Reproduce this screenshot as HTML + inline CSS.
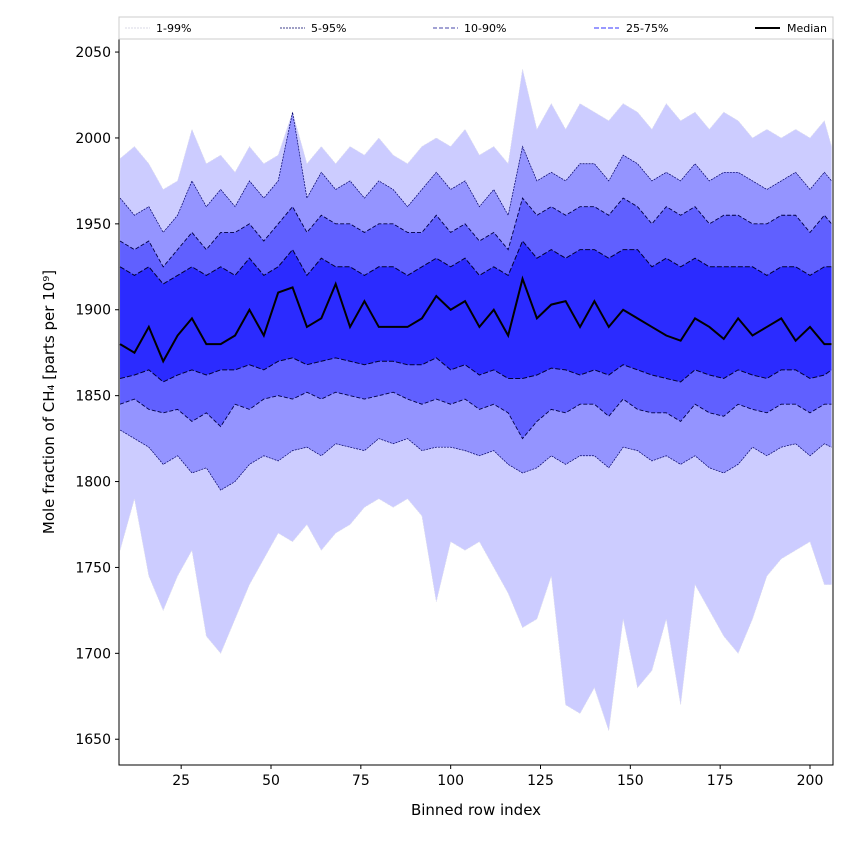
<!DOCTYPE html>
<html><head><meta charset="utf-8"><style>
body{margin:0;background:#fff;font-family:"Liberation Sans","DejaVu Sans",sans-serif}
svg text{font-family:"DejaVu Sans","Liberation Sans",sans-serif}
</style></head><body>
<svg id="chart" width="850" height="850" xmlns="http://www.w3.org/2000/svg"></svg>
<script>
const xs=[8,12,16,20,24,28,32,36,40,44,48,52,56,60,64,68,72,76,80,84,88,92,96,100,104,108,112,116,120,124,128,132,136,140,144,148,152,156,160,164,168,172,176,180,184,188,192,196,200,204,206];
const p99=[1988,1995,1985,1970,1975,2005,1985,1990,1980,1995,1985,1990,2015,1985,1995,1985,1995,1990,2000,1990,1985,1995,2000,1995,2005,1990,1995,1985,2040,2005,2020,2005,2020,2015,2010,2020,2015,2005,2020,2010,2015,2005,2015,2010,2000,2005,2000,2005,2000,2010,1995];
const p95=[1965,1955,1960,1945,1955,1975,1960,1970,1960,1975,1965,1975,2015,1965,1980,1970,1975,1965,1975,1970,1960,1970,1980,1970,1975,1960,1970,1955,1995,1975,1980,1975,1985,1985,1975,1990,1985,1975,1980,1975,1985,1975,1980,1980,1975,1970,1975,1980,1970,1980,1975];
const p90=[1940,1935,1940,1925,1935,1945,1935,1945,1945,1950,1940,1950,1960,1945,1955,1950,1950,1945,1950,1950,1945,1945,1955,1945,1950,1940,1945,1935,1965,1955,1960,1955,1960,1960,1955,1965,1960,1950,1960,1955,1960,1950,1955,1955,1950,1950,1955,1955,1945,1955,1950];
const p75=[1925,1920,1925,1915,1920,1925,1920,1925,1920,1930,1920,1925,1935,1920,1930,1925,1925,1920,1925,1925,1920,1925,1930,1925,1930,1920,1925,1920,1940,1930,1935,1930,1935,1935,1930,1935,1935,1925,1930,1925,1930,1925,1925,1925,1925,1920,1925,1925,1920,1925,1925];
const med=[1880,1875,1890,1870,1885,1895,1880,1880,1885,1900,1885,1910,1913,1890,1895,1915,1890,1905,1890,1890,1890,1895,1908,1900,1905,1890,1900,1885,1918,1895,1903,1905,1890,1905,1890,1900,1895,1890,1885,1882,1895,1890,1883,1895,1885,1890,1895,1882,1890,1880,1880];
const p25=[1860,1862,1865,1858,1862,1865,1862,1865,1865,1868,1865,1870,1872,1868,1870,1872,1870,1868,1870,1870,1868,1868,1872,1865,1868,1862,1865,1860,1860,1862,1866,1865,1862,1865,1862,1868,1865,1862,1860,1858,1865,1862,1860,1865,1862,1860,1865,1865,1860,1862,1865];
const p10=[1845,1848,1842,1840,1842,1835,1840,1832,1845,1842,1848,1850,1848,1852,1848,1852,1850,1848,1850,1852,1848,1845,1848,1845,1848,1842,1845,1840,1825,1835,1842,1840,1845,1845,1838,1848,1842,1840,1840,1835,1845,1840,1838,1845,1842,1840,1845,1845,1840,1845,1845];
const p5=[1830,1825,1820,1810,1815,1805,1808,1795,1800,1810,1815,1812,1818,1820,1815,1822,1820,1818,1825,1822,1825,1818,1820,1820,1818,1815,1818,1810,1805,1808,1815,1810,1815,1815,1808,1820,1818,1812,1815,1810,1815,1808,1805,1810,1820,1815,1820,1822,1815,1822,1820];
const p1=[1760,1790,1745,1725,1745,1760,1710,1700,1720,1740,1755,1770,1765,1775,1760,1770,1775,1785,1790,1785,1790,1780,1730,1765,1760,1765,1750,1735,1715,1720,1745,1670,1665,1680,1655,1720,1680,1690,1720,1670,1740,1725,1710,1700,1720,1745,1755,1760,1765,1740,1740];
const yTicks=[1650,1700,1750,1800,1850,1900,1950,2000,2050];
const xTicks=[25,50,75,100,125,150,175,200];
const L=119,R=833,T=39,B=765;
const xMin=7.7,xMax=206.4,yMin=1635,yMax=2057.6;
const X=v=>L+(v-xMin)/(xMax-xMin)*(R-L);
const Y=v=>B-(v-yMin)/(yMax-yMin)*(B-T);
const svg=document.getElementById('chart');
const NS='http://www.w3.org/2000/svg';
function mk(tag,attrs,parent){const e=document.createElementNS(NS,tag);for(const k in attrs)e.setAttribute(k,attrs[k]);(parent||svg).appendChild(e);return e;}
const defs=mk('defs',{});const cp=mk('clipPath',{id:'clip'},defs);mk('rect',{x:L,y:T,width:R-L,height:B-T},cp);
const g=mk('g',{'clip-path':'url(#clip)'});
function band(lo,hi,fill,name){
  let d='M'+xs.map((x,i)=>X(x)+','+Y(hi[i])).join('L');
  for(let i=xs.length-1;i>=0;i--)d+='L'+X(xs[i])+','+Y(lo[i]);
  const p=mk('path',{d:d+'Z',fill:fill,stroke:'none'},g);
  
  
}
band(p1,p99,'#ccccff','band-1-99');
band(p5,p95,'#9494ff','band-5-95');
band(p10,p90,'#6060ff','band-10-90');
band(p25,p75,'#2b2bff','band-25-75');
function line(arr,stroke,w,dash,name){
  const p=mk('path',{d:'M'+xs.map((x,i)=>X(x)+','+Y(arr[i])).join('L'),fill:'none',stroke:stroke,'stroke-width':w,'stroke-dasharray':dash},g);
  
  
}
line(p99,'#ddddee',0.6,'2,1','line-p99');line(p1,'#ddddee',0.6,'2,1','line-p1');
line(p95,'#000066',0.7,'2,1','line-p95');line(p5,'#000066',0.7,'2,1','line-p5');
line(p90,'#000044',0.9,'4,2','line-p90');line(p10,'#000044',0.9,'4,2','line-p10');
line(p75,'#000033',1,'5,2','line-p75');line(p25,'#000033',1,'5,2','line-p25');
line(med,'#000',2,'none','line-median');
mk('rect',{x:L,y:T,width:R-L,height:B-T,fill:'none',stroke:'#000','stroke-width':1});
yTicks.forEach(v=>{mk('line',{x1:L-4,x2:L,y1:Y(v),y2:Y(v),stroke:'#000'});
  const t=mk('text',{x:L-8,y:Y(v)+5,'text-anchor':'end','font-size':14});t.textContent=v;
  });
xTicks.forEach(v=>{mk('line',{x1:X(v),x2:X(v),y1:B,y2:B+4,stroke:'#000'});
  const t=mk('text',{x:X(v),y:B+20,'text-anchor':'middle','font-size':14});t.textContent=v;
  });
</script>
<svg style="position:absolute;left:0;top:0" width="850" height="850">
<text x="476" y="815" text-anchor="middle" font-size="15">Binned row index</text>
<text transform="translate(54,402) rotate(-90)" text-anchor="middle" font-size="15">Mole fraction of CH₄ [parts per 10⁹]</text>
<g>
<rect x="119" y="17" width="714" height="22" fill="#fff" stroke="#ccc"/>
<line x1="125" y1="28" x2="150" y2="28" stroke="#ccccdd" stroke-width="0.7" stroke-dasharray="2,1"/>
<text x="156" y="32" font-size="11">1-99%</text>
<line x1="280" y1="28" x2="305" y2="28" stroke="#000066" stroke-width="0.7" stroke-dasharray="2,1"/>
<text x="311" y="32" font-size="11">5-95%</text>
<line x1="433" y1="28" x2="458" y2="28" stroke="#4444aa" stroke-width="1" stroke-dasharray="4,2"/>
<text x="464" y="32" font-size="11">10-90%</text>
<line x1="594" y1="28" x2="619" y2="28" stroke="#3333ff" stroke-width="1" stroke-dasharray="5,2"/>
<text x="626" y="32" font-size="11">25-75%</text>
<line x1="755" y1="28" x2="780" y2="28" stroke="#000" stroke-width="2"/>
<text x="787" y="32" font-size="11">Median</text>
</g>
</svg>
</body></html>
